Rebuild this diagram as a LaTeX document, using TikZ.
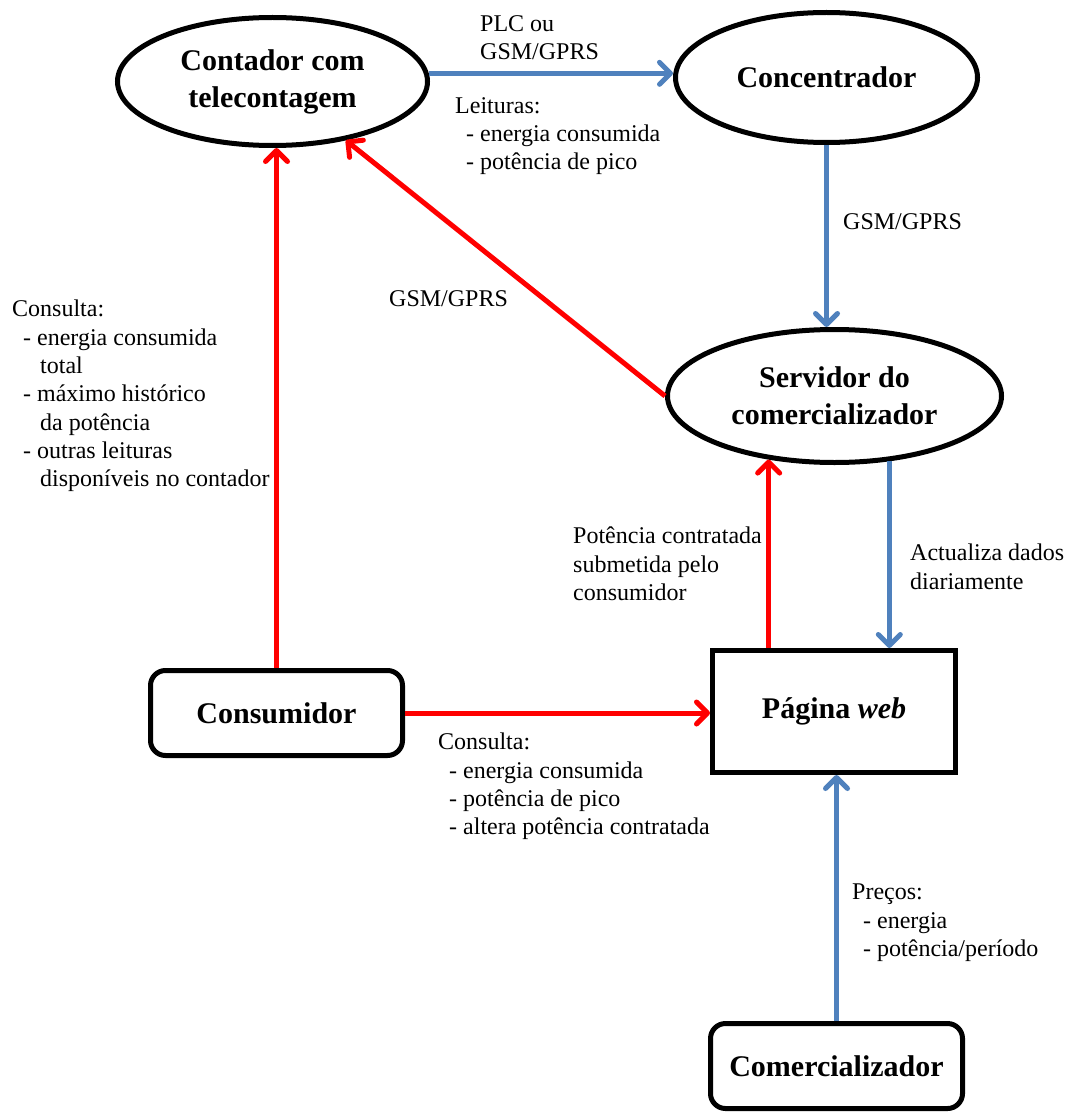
\documentclass[tikz,border=0pt]{standalone}
\usepackage{fontspec}
\setmainfont{Liberation Serif}
\usetikzlibrary{arrows.meta,shapes.geometric,calc}
\definecolor{myblue}{RGB}{79,129,189}
\definecolor{myred}{RGB}{255,0,0}
\begin{document}
\begin{tikzpicture}[x=1pt,y=-1pt,
  ell/.style={ellipse,draw=black,line width=5pt,inner sep=0pt,align=center,
    font=\fontsize{30}{37}\selectfont\bfseries},
  box/.style={rectangle,draw=black,line width=5pt,inner sep=0pt,align=center,
    font=\fontsize{30}{37}\selectfont\bfseries},
  lbl/.style={anchor=north west,inner sep=0pt,align=left,
    font=\fontsize{24}{28.3}\selectfont},
  tip/.style={-{Straight Barb[length=11pt,width=22pt,round]}},
  bl/.style={draw=myblue,line width=5pt,tip},
  rd/.style={draw=myred,line width=5pt,tip}]
\useasboundingbox[fill=white] (0,0) rectangle (1070,1113);

\node[ell,minimum width=310pt,minimum height=128pt] (cont) at (272.5,81.5) {Contador com\\telecontagem};
\node[ell,minimum width=302pt,minimum height=130pt] (conc) at (826.5,77.5) {Concentrador};
\node[ell,minimum width=334pt,minimum height=133pt] (serv) at (834.5,396) {Servidor do\\comercializador};
\node[box,rounded corners=15pt,minimum width=252pt,minimum height=85pt] (cons) at (276.5,713) {Consumidor};
\node[box,minimum width=243pt,minimum height=122pt] (web) at (834,711.5) {Página \textit{web}};
\node[box,rounded corners=15pt,minimum width=252pt,minimum height=85pt] (com) at (836.5,1066) {Comercializador};

\draw[bl] (cont.3) -- (cont.3 -| conc.west);
\draw[bl] (conc.south) -- (conc.south |- serv.north);
\draw[rd] (serv.west) -- (cont);
\draw[rd] (cons.north) -- (cons.north |- cont.south);
\draw[rd] (cons.east) -- (cons.east -| web.west);
\draw[rd] (serv.-136 |- web.north) -- (serv.-136);
\draw[bl] (serv.-50) -- (serv.-50 |- web.north);
\draw[bl] (com.north) -- (com.north |- web.south);

\node[lbl] (l1) at (480,15) {PLC ou\\GSM/GPRS};
\node[lbl] (l2) at (455,97) {Leituras:\\\hspace*{11pt}- energia consumida\\\hspace*{11pt}- potência de pico};
\node[lbl] (l3) at (843,213) {GSM/GPRS};
\node[lbl] (l4) at (389,290) {GSM/GPRS};
\node[lbl] (l5) at (12,300) {Consulta:\\\hspace*{11pt}- energia consumida\\\hspace*{28pt}total\\\hspace*{11pt}- máximo histórico\\\hspace*{28pt}da potência\\\hspace*{11pt}- outras leituras\\\hspace*{28pt}disponíveis no contador};
\node[lbl] (l6) at (573,527) {Potência contratada\\submetida pelo\\consumidor};
\node[lbl] (l7) at (910,544) {Actualiza dados\\diariamente};
\node[lbl] (l8) at (438,733) {Consulta:\\\hspace*{11pt}- energia consumida\\\hspace*{11pt}- potência de pico\\\hspace*{11pt}- altera potência contratada};
\node[lbl] (l9) at (852,884) {Preços:\\\hspace*{11pt}- energia\\\hspace*{11pt}- potência/período};
\end{tikzpicture}
\end{document}
